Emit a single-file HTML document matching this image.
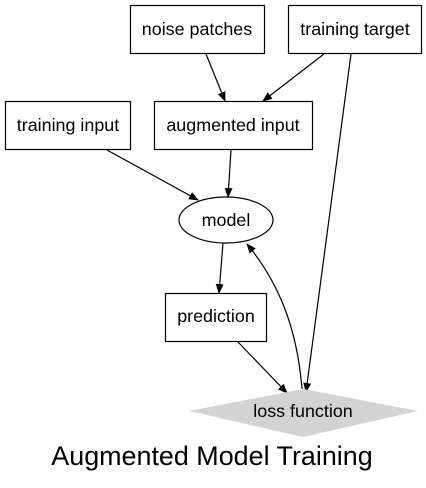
<!DOCTYPE html>
<html><head><style>body{margin:0;background:#fff}</style></head><body>
<svg width="426" height="483" xmlns="http://www.w3.org/2000/svg" font-family="Liberation Sans, sans-serif">
<defs><marker id="a" markerWidth="10" markerHeight="8" refX="9" refY="4" orient="auto" markerUnits="userSpaceOnUse"><path d="M0,0 L10,4 L0,8 z" fill="#000"/></marker></defs>
<g fill="none" stroke="#000" stroke-width="1.2">
<rect x="130.5" y="5.5" width="134" height="48"/>
<rect x="288.5" y="5.5" width="133" height="48"/>
<rect x="5.5" y="101.5" width="125" height="48"/>
<rect x="154.5" y="101.5" width="158" height="48"/>
<ellipse cx="226" cy="220" rx="47" ry="23"/>
<rect x="165.5" y="293.5" width="101" height="48"/>
<g marker-end="url(#a)">
<line x1="206" y1="54" x2="225" y2="101"/>
<line x1="324" y1="54" x2="263" y2="101"/>
<line x1="107" y1="150" x2="198" y2="200"/>
<line x1="231" y1="150" x2="228" y2="197"/>
<line x1="223" y1="243" x2="219" y2="293"/>
<line x1="238" y1="342" x2="287" y2="393"/>
<line x1="351" y1="54" x2="306" y2="392"/>
<path d="M302 389 C298 340 285 290 247 244"/>
</g>
</g>
<polygon points="303,389 418,411 303,437 189,411" fill="#d3d3d3"/>
<g font-size="17.9" text-anchor="middle" fill="#000">
<text x="197" y="35">noise patches</text>
<text x="355" y="35">training target</text>
<text x="68" y="131">training input</text>
<text x="233" y="131">augmented input</text>
<text x="226" y="226">model</text>
<text x="216" y="322">prediction</text>
<text x="303" y="417">loss function</text>
<text x="212" y="465" font-size="26.9">Augmented Model Training</text>
</g>
</svg>
</body></html>
